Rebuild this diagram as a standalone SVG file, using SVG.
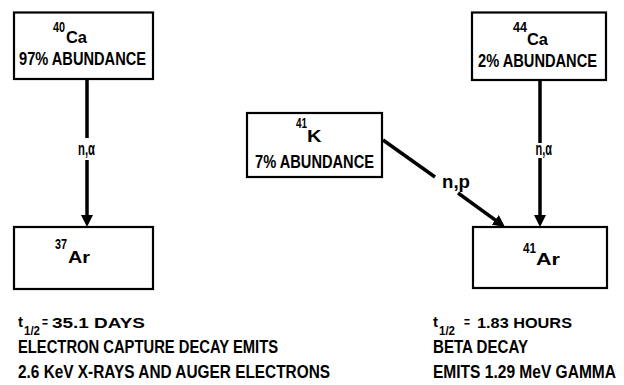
<svg xmlns="http://www.w3.org/2000/svg" width="624" height="385" viewBox="0 0 624 385">
<style>
.box{fill:#fff;stroke:#000;stroke-width:2.2}
.t{font-family:"Liberation Sans",Arial,sans-serif;font-weight:bold;fill:#000}
.big{font-size:19px}
.sup{font-size:14px}
.el{font-size:17px}
.lbl{font-size:19px}
.sm{font-size:15px}
.sub{font-size:12px}
.ln{stroke:#000;stroke-width:3.5;fill:none}
</style>
<defs>
<marker id="ah" viewBox="0 0 12 12" refX="4" refY="6" markerWidth="12" markerHeight="12" markerUnits="userSpaceOnUse" orient="auto">
<path d="M0,0 L12,6 L0,12 z" fill="#000"/>
</marker>
</defs>
<rect width="624" height="385" fill="#fff"/>
<g id="connectors">
<line class="ln" x1="87" y1="79" x2="87" y2="138"/>
<line class="ln" x1="87" y1="160" x2="87" y2="219" marker-end="url(#ah)"/>
<text class="t lbl" x="78" y="155" textLength="17" lengthAdjust="spacingAndGlyphs">n,α</text>
<line class="ln" x1="540" y1="80" x2="540" y2="143"/>
<line class="ln" x1="540" y1="158" x2="540" y2="219" marker-end="url(#ah)"/>
<text class="t lbl" x="535.5" y="155" textLength="16.5" lengthAdjust="spacingAndGlyphs">n,α</text>
<line class="ln" x1="383" y1="140" x2="435" y2="177"/>
<line class="ln" x1="458" y1="193" x2="498.5" y2="222.3" marker-end="url(#ah)"/>
<text class="t lbl" x="442" y="188" textLength="28" lengthAdjust="spacingAndGlyphs">n,p</text>
</g>
<g id="ca40">
<rect class="box" x="14" y="12.5" width="139" height="66.5"/>
<text class="t sup" x="53" y="32" textLength="12" lengthAdjust="spacingAndGlyphs">40</text>
<text class="t el" x="66" y="43" textLength="21" lengthAdjust="spacingAndGlyphs">Ca</text>
<text class="t big" x="19" y="65" textLength="127" lengthAdjust="spacingAndGlyphs">97% ABUNDANCE</text>
</g>
<g id="ca44">
<rect class="box" x="472" y="12.5" width="134" height="67.5"/>
<text class="t sup" x="513" y="31.5" textLength="14" lengthAdjust="spacingAndGlyphs">44</text>
<text class="t el" x="527" y="45" textLength="21" lengthAdjust="spacingAndGlyphs">Ca</text>
<text class="t big" x="478" y="66.5" textLength="119" lengthAdjust="spacingAndGlyphs">2% ABUNDANCE</text>
</g>
<g id="k41">
<rect class="box" x="247" y="113" width="135" height="64"/>
<text class="t sup" x="296" y="128" textLength="11" lengthAdjust="spacingAndGlyphs">41</text>
<text class="t el" x="307" y="141.5" textLength="14.5" lengthAdjust="spacingAndGlyphs">K</text>
<text class="t big" x="255" y="168" textLength="119" lengthAdjust="spacingAndGlyphs">7% ABUNDANCE</text>
</g>
<g id="ar37">
<rect class="box" x="14" y="227" width="139" height="62"/>
<text class="t sup" x="55" y="249" textLength="12" lengthAdjust="spacingAndGlyphs">37</text>
<text class="t el" x="68" y="263" textLength="22" lengthAdjust="spacingAndGlyphs">Ar</text>
</g>
<g id="ar41">
<rect class="box" x="473" y="227" width="134" height="61"/>
<text class="t sup" x="523" y="253" textLength="13" lengthAdjust="spacingAndGlyphs">41</text>
<text class="t el" x="536" y="265" textLength="24" lengthAdjust="spacingAndGlyphs">Ar</text>
</g>
<g id="notes-left">
<text class="t sm" x="18" y="327" textLength="5" lengthAdjust="spacingAndGlyphs">t</text>
<text class="t sub" x="24" y="335" textLength="16" lengthAdjust="spacingAndGlyphs">1/2</text>
<text class="t sm" x="42" y="327" textLength="6" lengthAdjust="spacingAndGlyphs">=</text>
<text class="t sm" x="52" y="328" textLength="93" lengthAdjust="spacingAndGlyphs">35.1 DAYS</text>
<text class="t big" x="18" y="353" textLength="260" lengthAdjust="spacingAndGlyphs">ELECTRON CAPTURE DECAY EMITS</text>
<text class="t big" x="18" y="378" textLength="312" lengthAdjust="spacingAndGlyphs">2.6 KeV X-RAYS AND AUGER ELECTRONS</text>
</g>
<g id="notes-right">
<text class="t sm" x="433" y="327" textLength="5" lengthAdjust="spacingAndGlyphs">t</text>
<text class="t sub" x="439" y="335" textLength="16" lengthAdjust="spacingAndGlyphs">1/2</text>
<text class="t sm" x="464" y="327" textLength="6" lengthAdjust="spacingAndGlyphs">=</text>
<text class="t sm" x="477" y="328" textLength="95" lengthAdjust="spacingAndGlyphs">1.83 HOURS</text>
<text class="t big" x="433" y="353" textLength="95" lengthAdjust="spacingAndGlyphs">BETA DECAY</text>
<text class="t big" x="433" y="378" textLength="183" lengthAdjust="spacingAndGlyphs">EMITS 1.29 MeV GAMMA</text>
</g>
</svg>
